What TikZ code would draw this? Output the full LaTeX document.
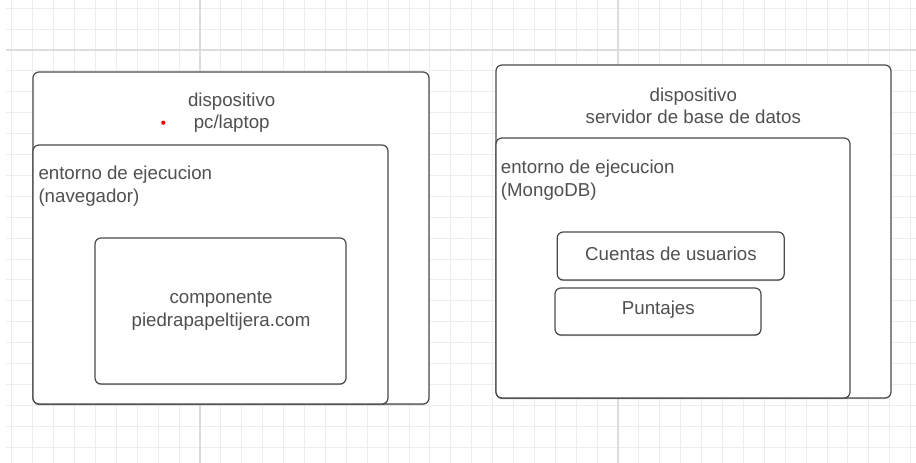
\documentclass[tikz,border=0pt]{standalone}
\usepackage{fontspec}
\setmainfont{Liberation Sans}
\usetikzlibrary{shadows}
\definecolor{linec}{HTML}{4A4A4A}
\definecolor{textc}{HTML}{505050}
\definecolor{gridminor}{HTML}{EDEDED}
\definecolor{gridmajor}{HTML}{DCDCDC}
\begin{document}
\begin{tikzpicture}[x=1pt,y=-1pt,
  box/.style={draw=linec, line width=1.2pt, fill=white, rounded corners=6pt,
    inner sep=0pt, drop shadow={shadow xshift=0pt, shadow yshift=-1pt, opacity=0.25, fill=black}},
  lbl/.style={text=textc, inner sep=0pt, font=\fontsize{18.7}{22.4}\selectfont},
]
\useasboundingbox (0,0) rectangle (916,463);
\fill[white] (0,0) rectangle (916,463);
% grid
\foreach \k in {-9,...,34} {
  \draw[gridminor, line width=1pt] ({200+20.9*\k},0) -- ({200+20.9*\k},463);
}
\foreach \k in {-2,...,19} {
  \draw[gridminor, line width=1pt] (6,{50+20.9*\k}) -- (916,{50+20.9*\k});
}
\draw[gridmajor, line width=1.1pt] (200,0) -- (200,463);
\draw[gridmajor, line width=1.1pt] (618,0) -- (618,463);
\draw[gridmajor, line width=1.1pt] (6,50) -- (916,50);

% left device
\node[box, minimum width=396pt, minimum height=332pt] (dev1) at (231,238) {};
\node[box, minimum width=355pt, minimum height=259pt] (env1) at (210.5,274.5) {};
\node[box, minimum width=251pt, minimum height=146pt] (comp) at (220.5,311) {};
\node[lbl, align=center] (dev1t) at (231.7,112.5) {dispositivo\\pc/laptop};
\node[lbl, align=left, anchor=west] (env1t) at (38.3,186) {entorno de ejecucion\\(navegador)};
\node[lbl, align=center] (compt) at (221,311) {componente\\piedrapapeltijera.com};
\node[circle, fill=red, inner sep=0pt, minimum size=4.2pt] (dot) at (163.3,122.7) {};

% right device
\node[box, minimum width=395pt, minimum height=333pt] (dev2) at (693.5,231.5) {};
\node[box, minimum width=354pt, minimum height=260pt] (env2) at (673,268) {};
\node[box, minimum width=227pt, minimum height=48pt] (cuentas) at (670.7,256) {};
\node[box, minimum width=206pt, minimum height=47pt] (puntajes) at (658,311.5) {};
\node[lbl, align=center] (dev2t) at (693.3,106) {dispositivo\\servidor de base de datos};
\node[lbl, align=left, anchor=west] (env2t) at (500.7,180) {entorno de ejecucion\\(MongoDB)};
\node[lbl] (cuentast) at (671,253.8) {Cuentas de usuarios};
\node[lbl] (puntajest) at (658.3,309.5) {Puntajes};
\end{tikzpicture}
\end{document}
